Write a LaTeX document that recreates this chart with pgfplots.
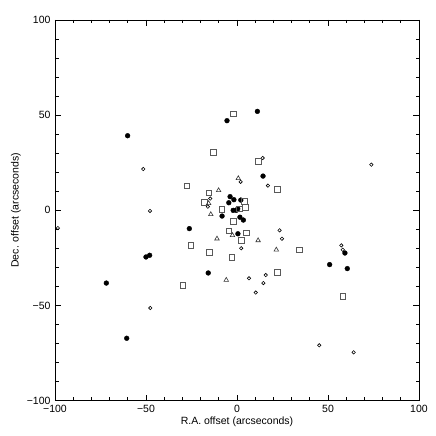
\documentclass[border=0pt]{standalone}
\usepackage{fontspec}
\setmainfont{Liberation Sans}
\usepackage{pgfplots}
\pgfplotsset{compat=1.18}

\begin{document}
\begin{tikzpicture}
\begin{axis}[
  scale only axis, width=364pt, height=380.7pt,
  xmin=-100, xmax=100, ymin=-100, ymax=100,
  xtick={-100,-50,0,50,100}, ytick={-100,-50,0,50,100},
  xticklabels={−100,−50,0,50,100}, yticklabels={−100,−50,0,50,100},
  minor tick num=4,
  tick align=inside,
  major tick length=6pt, minor tick length=3.5pt,
  axis line style={line width=0.9pt},
  every tick/.style={black, line width=0.9pt},
  tick label style={font=\fontsize{10.5}{12}\selectfont},
  xlabel={R.A. offset (arcseconds)}, ylabel={Dec. offset (arcseconds)},
  label style={font=\fontsize{10.5}{12}\selectfont},
  xlabel style={at={(axis description cs:0.5,0)}, anchor=center, yshift=-21pt},
  ylabel style={at={(axis description cs:0,0.5)}, anchor=center, yshift=39pt},
  xticklabel style={yshift=-1pt},
  yticklabel style={xshift=-1pt},
]
% filled circles
\addplot[only marks, mark=*, mark size=2.4pt, black] coordinates {
(-60.1,39.2)(11.2,52.0)(-5.5,47.1)(14.3,18.0)
(-3.8,7.2)(-4.5,4.0)(-1.7,5.6)(2.1,5.4)(-2.1,0.0)(-0.4,0.0)(0.4,0.8)
(1.6,-3.6)(3.5,-5.1)(-8.2,-3.0)(-26.2,-9.6)(0.5,-12.3)
(-50.0,-24.5)(-48.0,-23.6)(-15.8,-32.9)(-71.8,-38.2)(-60.6,-67.2)
(59.3,-22.4)(50.9,-28.5)(60.6,-30.6)
};
% open circles
\addplot[only marks, mark=o, mark size=1.7pt, black, mark options={line width=0.6pt}] coordinates {
(-51.5,21.7)(-14.7,6.2)(-16.0,1.9)(-47.8,-0.3)(14.1,27.5)(73.8,24.0)
(17.0,13.0)(2.0,15.0)(-98.4,-9.3)(23.4,-10.5)(24.7,-14.9)(2.3,-19.9)
(57.3,-18.4)(58.1,-20.7)(6.6,-35.7)(15.8,-34.0)(14.5,-38.2)(10.3,-43.2)
(45.2,-70.9)(64.1,-74.6)(-47.6,-51.3)
};
% squares
\addplot[only marks, mark=square, mark size=2.8pt, black!65, mark options={line width=0.6pt}] coordinates {
(-13.0,30.4)(-2.0,50.8)(11.6,25.8)(22.2,11.0)(-27.6,13.0)(-15.6,9.3)
(-18.0,4.2)(-8.3,0.6)(4.1,4.6)(4.6,1.7)(1.2,0.8)(-2.1,-5.7)
(-4.5,-10.8)(5.2,-11.8)(2.3,-15.7)(34.1,-20.7)(-2.8,-24.7)(22.0,-32.4)
(58.1,-45.0)(-25.4,-18.4)(-15.2,-22.0)(-29.7,-39.4)
};
% triangles
\addplot[only marks, mark=triangle, mark size=2.6pt, black!80, mark options={line width=0.6pt}] coordinates {
(-10.1,10.5)(0.7,16.8)(-15.6,3.7)(-14.4,-2.1)(-2.5,-13.1)(-11.0,-14.9)
(11.6,-15.8)(21.6,-20.7)(-5.9,-36.6)
};
\end{axis}
\path ([xshift=-55pt,yshift=-35pt]current axis.south west) rectangle ([xshift=17pt,yshift=20pt]current axis.north east);
\end{tikzpicture}
\end{document}
